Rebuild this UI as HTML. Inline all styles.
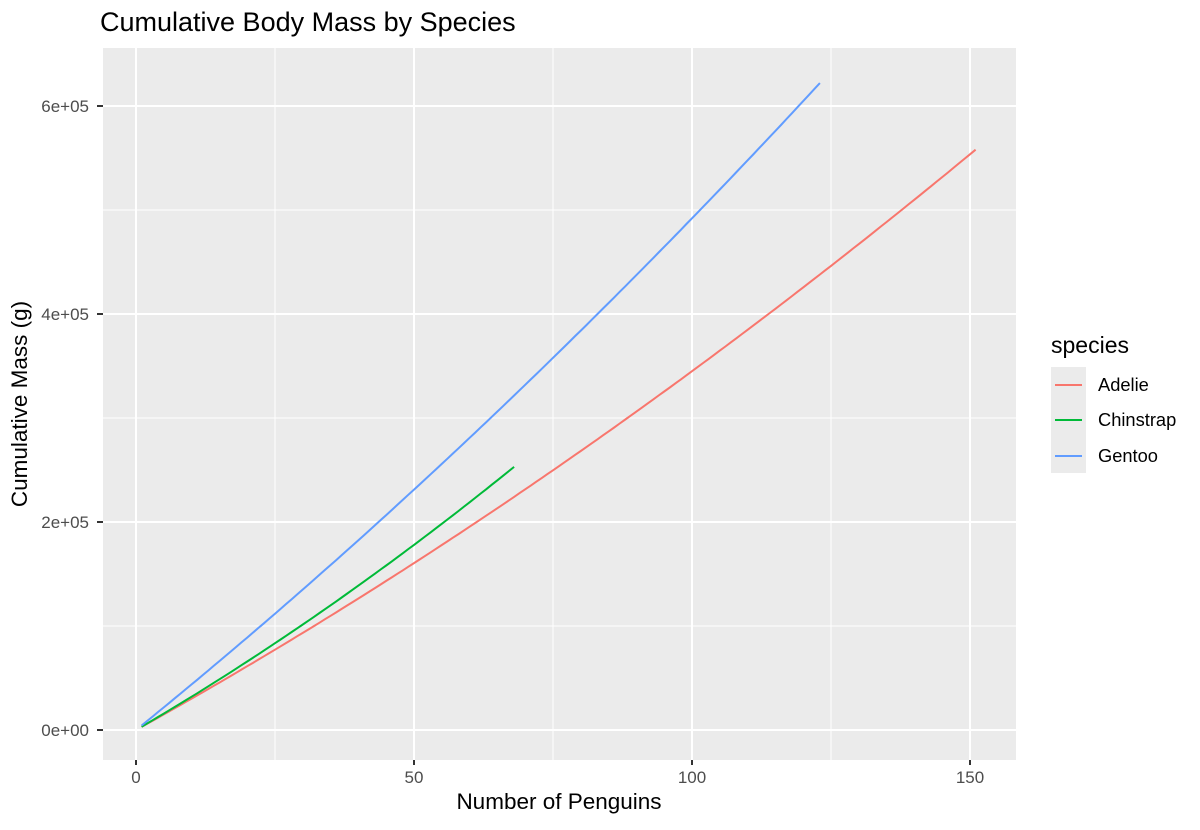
<!DOCTYPE html>
<html><head><meta charset="utf-8"><style>
body{margin:0;background:#fff;}
svg text{font-family:"Liberation Sans",Arial,sans-serif;}
</style></head><body>
<svg id="s" width="1200" height="825" xmlns="http://www.w3.org/2000/svg">
<rect width="1200" height="825" fill="#fff"/>
<rect x="103" y="48" width="913" height="712" fill="#ebebeb"/>
<g stroke="#fff" stroke-width="1">
<line x1="275" y1="48" x2="275" y2="760"/><line x1="553" y1="48" x2="553" y2="760"/><line x1="831" y1="48" x2="831" y2="760"/>
<line x1="103" y1="626" x2="1016" y2="626"/><line x1="103" y1="418" x2="1016" y2="418"/><line x1="103" y1="210" x2="1016" y2="210"/>
</g>
<g stroke="#fff" stroke-width="2">
<line x1="136" y1="48" x2="136" y2="760"/><line x1="414" y1="48" x2="414" y2="760"/><line x1="692" y1="48" x2="692" y2="760"/><line x1="970" y1="48" x2="970" y2="760"/>
<line x1="103" y1="730" x2="1016" y2="730"/><line x1="103" y1="522" x2="1016" y2="522"/><line x1="103" y1="314" x2="1016" y2="314"/><line x1="103" y1="106" x2="1016" y2="106"/>
</g>
<g id="lines" fill="none" stroke-width="2"></g>
<g stroke="#333" stroke-width="2">
<line x1="136" y1="760" x2="136" y2="765"/><line x1="414" y1="760" x2="414" y2="765"/><line x1="692" y1="760" x2="692" y2="765"/><line x1="970" y1="760" x2="970" y2="765"/>
<line x1="97" y1="730" x2="103" y2="730"/><line x1="97" y1="522" x2="103" y2="522"/><line x1="97" y1="314" x2="103" y2="314"/><line x1="97" y1="106" x2="103" y2="106"/>
</g>
<g font-size="17" fill="#4d4d4d" text-anchor="middle">
<text x="136" y="783">0</text><text x="414" y="783">50</text><text x="692" y="783">100</text><text x="970" y="783">150</text>
</g>
<g font-size="17" fill="#4d4d4d" text-anchor="end">
<text x="89" y="736">0e+00</text><text x="89" y="528">2e+05</text><text x="89" y="320">4e+05</text><text x="89" y="112">6e+05</text>
</g>
<text x="559" y="809" font-size="22.5" text-anchor="middle" fill="#000">Number of Penguins</text>
<text transform="translate(27,404) rotate(-90)" font-size="22.5" text-anchor="middle" fill="#000">Cumulative Mass (g)</text>
<text x="100" y="31" font-size="27" fill="#000">Cumulative Body Mass by Species</text>
<text x="1051" y="353" font-size="23" fill="#000">species</text>
<rect x="1051" y="367" width="35" height="106" fill="#ebebeb"/>
<line x1="1055" y1="385" x2="1082" y2="385" stroke="#F8766D" stroke-width="2"/>
<line x1="1055" y1="420" x2="1082" y2="420" stroke="#00BA38" stroke-width="2"/>
<line x1="1055" y1="456" x2="1082" y2="456" stroke="#619CFF" stroke-width="2"/>
<g font-size="18.3" fill="#000"><text x="1098" y="391">Adelie</text><text x="1098" y="426">Chinstrap</text><text x="1098" y="462">Gentoo</text></g>
</svg>
<script>
var S=[["#F8766D",2969,4.81,151],["#00BA38",3114,8.92,68],["#619CFF",4325,5.95,123]];
var g=document.getElementById("lines");
S.forEach(function(s){var p=[];for(var n=1;n<=s[3];n++){var y=s[1]*n+s[2]*n*n;p.push((136+n*5.56).toFixed(1)+","+(730-y*0.00104).toFixed(1));}
var e=document.createElementNS("http://www.w3.org/2000/svg","polyline");e.setAttribute("points",p.join(" "));e.setAttribute("stroke",s[0]);g.appendChild(e);});
</script>
</body></html>
